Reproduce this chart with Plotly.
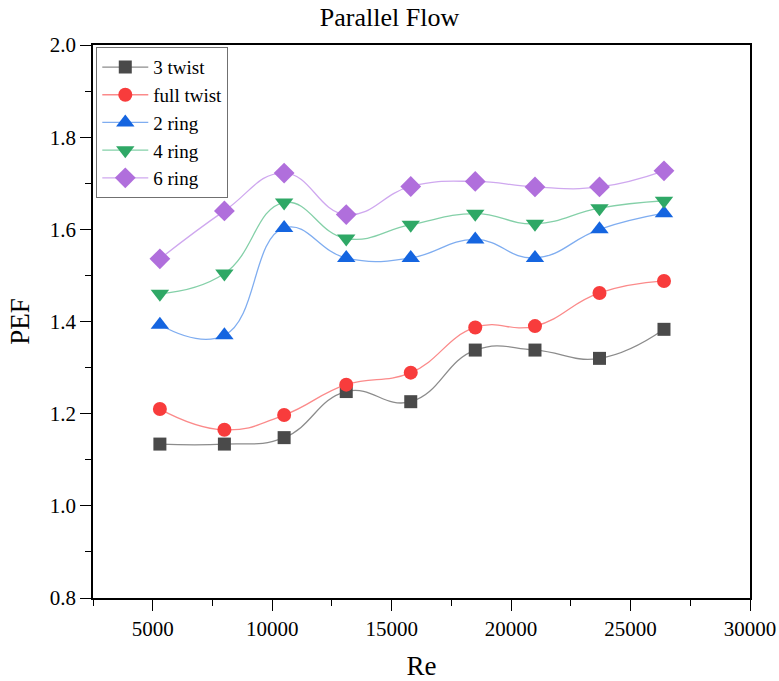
import plotly.graph_objects as go

# Reynolds numbers tested
re_values = [5300, 8000, 10500, 13100, 15800, 18500, 21000, 23700, 26400]

# Performance evaluation factor for each insert type
pef_3_twist = [1.134, 1.134, 1.148, 1.248, 1.226, 1.338, 1.338, 1.320, 1.383]
pef_full_twist = [1.210, 1.165, 1.197, 1.263, 1.289, 1.387, 1.390, 1.462, 1.488]
pef_2_ring = [1.393, 1.370, 1.603, 1.538, 1.538, 1.578, 1.538, 1.600, 1.635]
pef_4_ring = [1.460, 1.504, 1.658, 1.580, 1.610, 1.634, 1.612, 1.646, 1.662]
pef_6_ring = [1.536, 1.640, 1.722, 1.632, 1.693, 1.704, 1.692, 1.692, 1.727]

series_names = ["3 twist", "full twist", "2 ring", "4 ring", "6 ring"]
series_values = [pef_3_twist, pef_full_twist, pef_2_ring, pef_4_ring, pef_6_ring]
marker_symbols = ["square", "circle", "triangle-up", "triangle-down", "diamond"]
marker_colors = ["#4a4a4a", "#f83c3c", "#1565e0", "#2fa866", "#b06fdc"]
line_colors = ["#8c8c8c", "#fb8a8a", "#7fadf0", "#84d0a8", "#cfa8ef"]
marker_sizes = [13, 14, 16, 16, 16]

x_tick_vals = [5000, 10000, 15000, 20000, 25000, 30000]
x_tick_text = ["5000", "10000", "15000", "20000", "25000", "30000"]

serif = "Liberation Serif"

fig = go.Figure()
for name, vals, sym, mc, lc, ms in zip(series_names, series_values, marker_symbols,
                                       marker_colors, line_colors, marker_sizes):
    fig.add_trace(go.Scatter(
        x=re_values, y=vals, name=name, mode="lines+markers",
        line=dict(color=lc, width=1.3, shape="spline", smoothing=1.3),
        marker=dict(symbol=sym, size=ms, color=mc, line=dict(width=0)),
    ))

axis_common = dict(
    showline=True, linecolor="black", linewidth=1.6, mirror=True,
    ticks="outside", ticklen=11, tickwidth=1.4, tickcolor="black",
    showgrid=False, zeroline=False, automargin=False,
    tickfont=dict(family=serif, size=21, color="black"),
)

fig.update_layout(
    width=779, height=681,
    margin=dict(l=93, r=29, t=45, b=83),
    paper_bgcolor="white", plot_bgcolor="white",
    font=dict(family=serif, color="black"),
    title=dict(text="Parallel Flow", x=0.5, xanchor="center", y=0.975, yanchor="middle",
               font=dict(family=serif, size=26, color="black")),
    xaxis=dict(
        range=[2500, 30000], tickvals=x_tick_vals, ticktext=x_tick_text,
        minor=dict(tickvals=[2500, 7500, 12500, 17500, 22500, 27500], ticks="outside",
                   ticklen=6, tickwidth=1.3, tickcolor="black"),
        title=dict(text="Re", font=dict(family=serif, size=27, color="black"), standoff=26),
        **axis_common,
    ),
    yaxis=dict(
        range=[0.8, 2.0], dtick=0.2, tick0=0.8, tickformat=".1f",
        minor=dict(dtick=0.1, ticks="outside", ticklen=6, tickwidth=1.3, tickcolor="black"),
        title=dict(text="PEF", font=dict(family=serif, size=27, color="black"), standoff=12),
        **axis_common,
    ),
    legend=dict(
        x=0.005, y=0.996, xanchor="left", yanchor="top",
        bgcolor="white", bordercolor="#707070", borderwidth=1,
        font=dict(family=serif, size=19, color="black"),
        tracegroupgap=0, itemwidth=46,
    ),
    showlegend=True,
)

fig.write_html("out.html")
